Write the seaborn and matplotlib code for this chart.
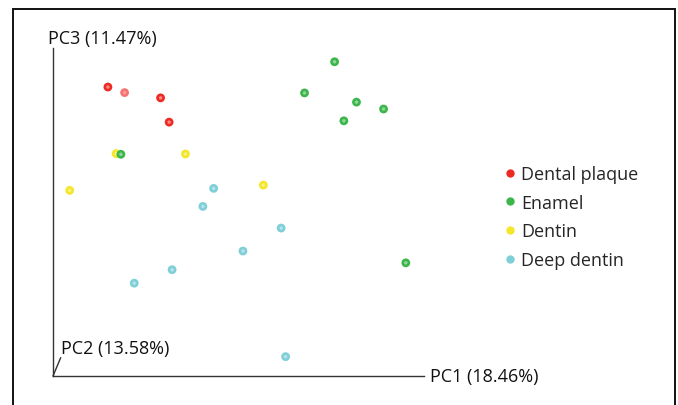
import matplotlib
matplotlib.use("Agg")
import matplotlib.pyplot as plt
from matplotlib.lines import Line2D
from matplotlib.patches import Rectangle
import seaborn as sns
import pandas as pd

# PCA scores projected onto the PC1 / PC3 plane (plot units 0-100)
groups = ["Dental plaque", "Enamel", "Dentin", "Deep dentin"]
colors = ["#ee2a24", "#3cb64a", "#f4e628", "#7fcfd8"]

plaque_x = [14.8, 19.3, 29.0, 31.3]
plaque_y = [88.1, 86.4, 84.8, 77.4]
plaque_a = [1.0, 0.65, 1.0, 1.0]

enamel_x = [75.9, 67.8, 81.8, 89.1, 78.4, 18.3, 95.1]
enamel_y = [95.8, 86.3, 83.5, 81.4, 77.8, 67.6, 34.5]
enamel_a = [1.0, 1.0, 1.0, 1.0, 1.0, 1.0, 1.0]

dentin_x = [17.0, 35.7, 4.5, 56.7]
dentin_y = [67.8, 67.7, 56.6, 58.2]
dentin_a = [1.0, 1.0, 1.0, 1.0]

deep_x = [43.3, 40.4, 61.5, 51.2, 32.1, 21.9, 62.7]
deep_y = [57.2, 51.7, 45.1, 38.1, 32.4, 28.3, 5.9]
deep_a = [1.0, 1.0, 1.0, 1.0, 1.0, 1.0, 1.0]

axis_labels = ["PC1 (18.46%)", "PC2 (13.58%)", "PC3 (11.47%)"]

series = {
    "Dental plaque": (plaque_x, plaque_y, plaque_a),
    "Enamel": (enamel_x, enamel_y, enamel_a),
    "Dentin": (dentin_x, dentin_y, dentin_a),
    "Deep dentin": (deep_x, deep_y, deep_a),
}

sns.set_theme(style="white")
plt.rcParams["font.family"] = ["Open Sans", "DejaVu Sans"]

W, H = 678, 406
fig = plt.figure(figsize=(W / 100, H / 100), dpi=100)
ax = fig.add_axes([53 / W, 29 / H, 371 / W, 328 / H])

# draw order: dentin layers sit beneath enamel
order = ["Dentin", "Deep dentin", "Dental plaque", "Enamel"]
for g in order:
    xs, ys, al = series[g]
    c = colors[groups.index(g)]
    df = pd.DataFrame({"x": xs, "y": ys})
    for i in range(len(xs)):
        sns.scatterplot(data=df.iloc[[i]], x="x", y="y", ax=ax, color=c,
                        s=40, edgecolor="none", alpha=al[i], legend=False)
        sns.scatterplot(data=df.iloc[[i]], x="x", y="y", ax=ax, color="white",
                        s=6, edgecolor="none", alpha=0.45 * al[i], legend=False)

ax.set_xlim(0, 100)
ax.set_ylim(0, 100)
ax.set_xlabel("")
ax.set_ylabel("")
ax.set_xticks([])
ax.set_yticks([])
for side in ["top", "right"]:
    ax.spines[side].set_visible(False)
for side in ["left", "bottom"]:
    ax.spines[side].set_color("#333333")
    ax.spines[side].set_linewidth(1.0)

fs = 13
ax.text(1.016, 0.0, axis_labels[0], transform=ax.transAxes, ha="left",
        va="center", fontsize=fs, color="#111111")
ax.text(0.0216, 0.0854, axis_labels[1], transform=ax.transAxes, ha="left",
        va="center", fontsize=fs, color="#111111")
ax.text(-0.0135, 1.0305, axis_labels[2], transform=ax.transAxes, ha="left",
        va="center", fontsize=fs, color="#111111")
ax.plot([0, 0.0208], [0, 0.056], transform=ax.transAxes, color="#333333",
        lw=1.0, clip_on=False)

handles = [Line2D([], [], ls="none", marker="o", markersize=6,
                  markerfacecolor=c, markeredgecolor="none") for c in colors]
fig.legend(handles, groups, loc="upper left",
           bbox_to_anchor=(492 / W, 1 - 157 / H), frameon=False,
           fontsize=fs, handletextpad=0.1, handlelength=1.0,
           labelspacing=0.59, borderpad=0)

fig.add_artist(Rectangle((12.7 / W, -0.05), (674.7 - 12.7) / W,
                         1.05 - 10 / H, transform=fig.transFigure,
                         fill=False, edgecolor="#111111", lw=1.4))

fig.savefig("out.png", dpi=100)
